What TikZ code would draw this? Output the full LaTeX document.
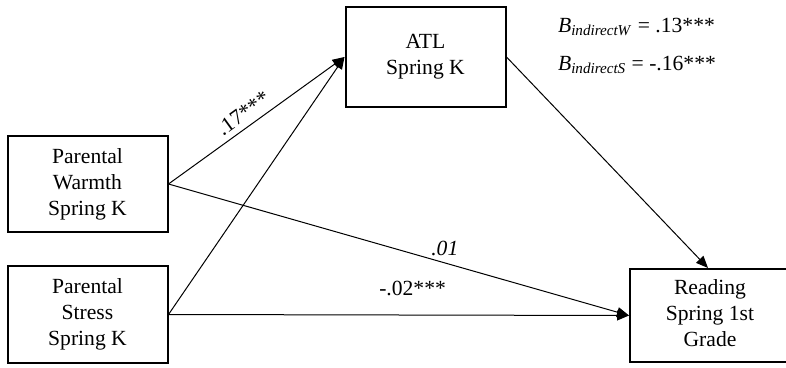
\documentclass[tikz,border=0pt]{standalone}
\usepackage{fontspec}
\setmainfont{Liberation Serif}
\usetikzlibrary{arrows.meta}

\begin{document}
\begin{tikzpicture}[x=0.5pt, y=-0.5pt, >={Triangle[length=6pt,width=5pt]},
  font=\fontsize{10.8}{13}\selectfont,
  var/.style={draw, line width=1pt, align=center, minimum width=80pt, minimum height=48pt, inner sep=2pt},
  path/.style={->, line width=0.5pt}]
\useasboundingbox (0,0) rectangle (786,368);
\node[var] (warmth) at (87.5,184) {Parental\\Warmth\\Spring K};
\node[var] (stress) at (87.5,314.5) {Parental\\Stress\\Spring K};
\node[var, minimum height=50pt] (atl) at (425.5,57) {ATL\\Spring K};
% box runs past the right edge of the page
\node[var, minimum height=46.5pt, minimum width=90pt] (reading) at (720,315.5)
  {\begin{tabular}{@{}c@{}}Reading\\Spring 1st\\Grade\end{tabular}\hspace{10pt}};

\draw[path] (warmth.east) -- node[pos=0.47, sloped, above=2pt, inner sep=1pt] (a17) {.17***} (atl.west);
\draw[path] (stress.east) -- (atl.west);
\draw[path] (atl.east) -- ([xshift=-6pt]reading.north);
\draw[path] (warmth.east) -- node[pos=0.6, above] (c01) {\textit{.01}} (reading.west);
\draw[path] (stress.east) -- node[pos=0.53, above=6pt] (c02) {-.02***} (reading.west);

\node[anchor=west] (bw) at (551,27) {\textit{B}\textsubscript{\textit{indirectW}} = .13***};
\node[anchor=west] (bs) at (551,65) {\textit{B}\textsubscript{\textit{indirectS}} = -.16***};
\end{tikzpicture}
\end{document}
